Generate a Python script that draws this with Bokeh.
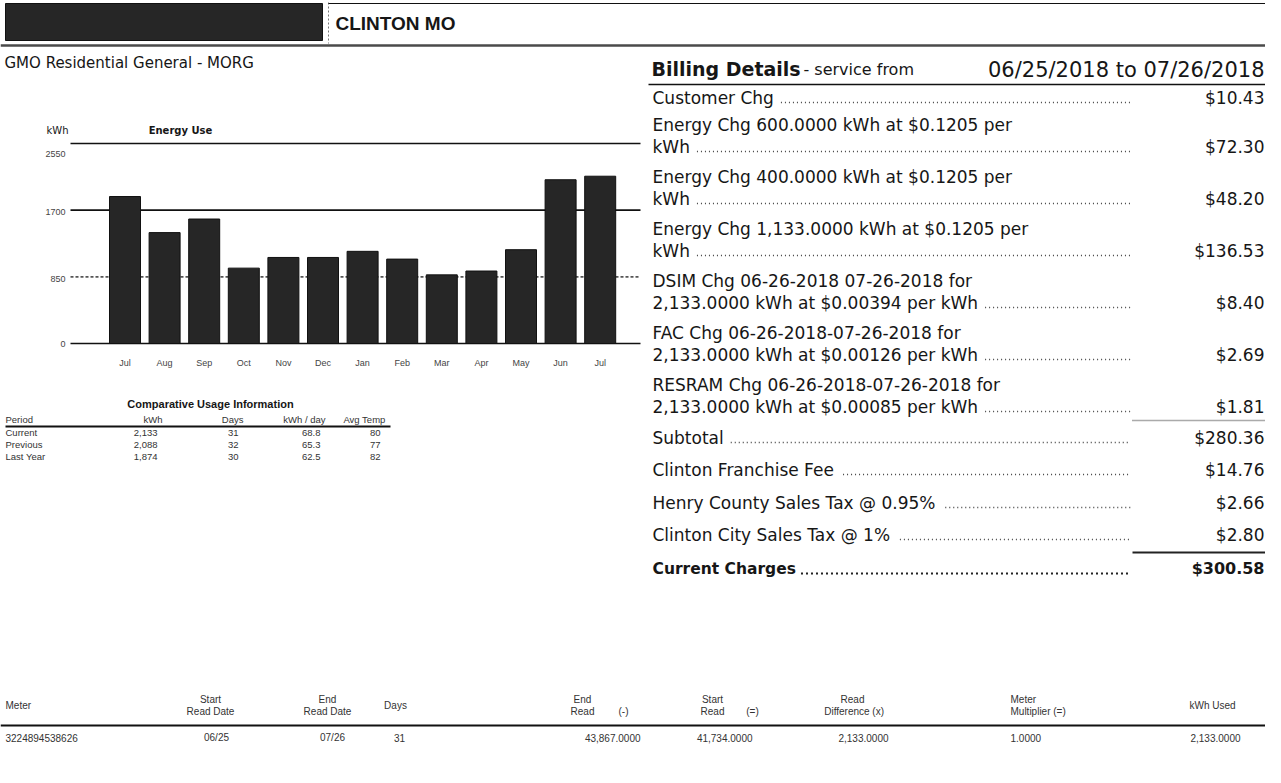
from bokeh.plotting import figure
from bokeh.models import Range1d
from bokeh.core.properties import value
from bokeh.embed import file_html
from bokeh.resources import INLINE

# ---------------------------------------------------------------- data
town = "CLINTON MO"
rate_name = "GMO Residential General - MORG"
chart_title = "Energy Use"
chart_unit = "kWh"
months = ["Jul", "Aug", "Sep", "Oct", "Nov", "Dec", "Jan", "Feb", "Mar", "Apr", "May", "Jun", "Jul"]
kwh_use = [1874, 1414, 1587, 961, 1097, 1097, 1175, 1076, 875, 924, 1196, 2088, 2133]
kwh_ticks = [0, 850, 1700, 2550]

cmp_title = "Comparative Usage Information"
cmp_header = ["Period", "kWh", "Days", "kWh / day", "Avg Temp"]
cmp_period = ["Current", "Previous", "Last Year"]
cmp_kwh = ["2,133", "2,088", "1,874"]
cmp_days = ["31", "32", "30"]
cmp_kwh_day = ["68.8", "65.3", "62.5"]
cmp_temp = ["80", "77", "82"]

bill_title = "Billing Details"
bill_service = "- service from"
bill_dates = "06/25/2018 to 07/26/2018"
bill_line1 = [
    "Customer Chg",
    "Energy Chg  600.0000 kWh at $0.1205 per",
    "Energy Chg  400.0000 kWh at $0.1205 per",
    "Energy Chg  1,133.0000 kWh at $0.1205 per",
    "DSIM Chg 06-26-2018 07-26-2018 for",
    "FAC Chg 06-26-2018-07-26-2018 for",
    "RESRAM Chg 06-26-2018-07-26-2018 for",
    "Subtotal",
    "Clinton Franchise Fee",
    "Henry County Sales Tax @ 0.95%",
    "Clinton City Sales Tax @ 1%",
]
bill_line2 = [
    None,
    "kWh",
    "kWh",
    "kWh",
    "2,133.0000 kWh at $0.00394 per kWh",
    "2,133.0000 kWh at $0.00126 per kWh",
    "2,133.0000 kWh at $0.00085 per kWh",
    None, None, None, None,
]
bill_amount = ["$10.43", "$72.30", "$48.20", "$136.53", "$8.40", "$2.69", "$1.81",
               "$280.36", "$14.76", "$2.66", "$2.80"]
total_label = "Current Charges"
total_amount = "$300.58"

meter_head1 = ["", "Start", "End", "", "End", "Start", "Read", "Meter", ""]
meter_head2 = ["Meter", "Read Date", "Read Date", "Days", "Read", "Read", "Difference  (x)",
               "Multiplier (=)", "kWh Used"]
meter_ops = ["(-)", "(=)"]
meter_row = ["3224894538626", "06/25", "07/26", "31", "43,867.0000", "41,734.0000",
             "2,133.0000", "1.0000", "2,133.0000"]

# ---------------------------------------------------------------- helpers
FONT = "DejaVu Sans"
SMALL = "Liberation Sans"
_W = {" ": 318, "!": 401, "$": 636, "%": 950, "(": 390, ")": 390, ",": 318, "-": 361,
      ".": 318, "/": 337, ":": 337, "=": 838, "@": 1000}
_W.update({d: 636 for d in "0123456789"})
_W.update(dict(zip("ABCDEFGHIJKLMNOPQRSTUVWXYZ",
                   [684, 686, 698, 770, 632, 575, 775, 752, 295, 295, 656, 557, 863, 748, 787,
                    603, 787, 695, 635, 611, 732, 684, 989, 685, 611, 685])))
_W.update(dict(zip("abcdefghijklmnopqrstuvwxyz",
                   [613, 635, 550, 635, 615, 352, 635, 634, 278, 278, 579, 278, 974, 634, 612,
                    635, 635, 411, 521, 392, 634, 592, 818, 592, 592, 525])))


def tw(s, size, bold=False):
    w = sum(_W.get(c, 600) for c in s) / 1000.0 * size
    return w * (1.1 if bold else 1.0)


W, H = 1265, 767
X0, Y0 = 8, 8
p = figure(width=W, height=H, x_range=Range1d(X0, X0 + W), y_range=Range1d(Y0 + H, Y0),
           output_backend="svg", toolbar_location=None, x_axis_location=None,
           y_axis_location=None, min_border=0)
p.grid.grid_line_color = None
p.outline_line_color = None
p.background_fill_color = "white"
p.border_fill_color = "white"


def txt(x, y, s, size, align="left", bold=False, color="#161616", font=FONT):
    p.text(x=[x], y=[y], text=[s], text_font=value(font), text_font_size=f"{size}px",
           text_font_style="bold" if bold else "normal", text_align=align,
           text_baseline="middle", text_color=color)


def hline(x0, x1, y, color="#111111", width=1.5, dash="solid"):
    p.segment(x0=[x0], x1=[x1], y0=[y], y1=[y], line_color=color, line_width=width, line_dash=dash)


# ---------------------------------------------------------------- header
p.quad(left=[13], right=[330], top=[11], bottom=[48], fill_color="#262626", line_color="#111111")
p.segment(x0=[336], x1=[336], y0=[10], y1=[51], line_color="#777777", line_width=1, line_dash="2 2")
hline(336, 1273, 11, width=1.2)
txt(343, 31, town, 19, bold=True, font=SMALL)
hline(8, 1273, 53, color="#4a4a4a", width=2.5)
txt(12, 70, rate_name, 15)

# ---------------------------------------------------------------- energy chart
ZERO_Y, TOP_Y = 351.0, 151.0
kpp = (kwh_ticks[-1] - kwh_ticks[0]) / (ZERO_Y - TOP_Y)
p.extra_y_ranges = {"kwh": Range1d(start=-(Y0 + H - ZERO_Y) * kpp, end=(ZERO_Y - Y0) * kpp)}
BAR0, STEP = 132.5, 39.6
p.extra_x_ranges = {"mon": Range1d(start=(X0 - BAR0) / STEP, end=(X0 + W - BAR0) / STEP)}

txt(54, 138, chart_unit, 10)
txt(188, 138, chart_title, 10, align="center", bold=True)

for t in kwh_ticks:
    dash = "3 2" if t == 850 else "solid"
    col = "#555555" if t == 850 else "#111111"
    p.segment(x0=[78], x1=[648], y0=[t], y1=[t], y_range_name="kwh",
              line_color=col, line_width=1.6, line_dash=dash)

idx = list(range(len(months)))
p.vbar(x=idx, top=kwh_use, bottom=0, width=31 / STEP, x_range_name="mon", y_range_name="kwh",
       fill_color="#262626", line_color="#111111", line_width=1)

p.text(x=[73] * len(kwh_ticks), y=kwh_ticks, text=[str(t) for t in kwh_ticks],
       y_range_name="kwh", y_offset=[0, 2, 2, 10], text_align="right", text_baseline="middle",
       text_font=value(SMALL), text_font_size="9px", text_color="#444444")
p.text(x=idx, y=[0] * len(idx), text=months, x_range_name="mon", y_range_name="kwh",
       y_offset=19, text_align="center", text_baseline="middle",
       text_font=value(SMALL), text_font_size="9px", text_color="#444444")

# ---------------------------------------------------------------- comparative table
txt(218, 411, cmp_title, 11, align="center", bold=True, font=SMALL)
cx = [13, 170, 251, 333, 393]
cal = ["left", "right", "right", "right", "right"]
for x, a, s in zip(cx, cal, cmp_header):
    txt(x, 427, s, 9.5, align=a, color="#333333", font=SMALL)
hline(13, 398, 434, width=2)
cols = [cmp_period, cmp_kwh, cmp_days, cmp_kwh_day, cmp_temp]
for r in range(len(cmp_period)):
    y = 440 + 12 * r
    for x, a, col in zip(cx, cal, cols):
        txt(x - (0 if a == "left" else 5), y, col[r], 9.5, align=a, color="#333333", font=SMALL)

# ---------------------------------------------------------------- billing details
BX, AMT_R, DOT_END, BFS = 660, 1272, 1138, 17
txt(659, 76, bill_title, 19, bold=True)
txt(811, 77, bill_service, 16)
txt(1272, 77, bill_dates, 21, align="right")
hline(656, 1273, 92, width=1.6)

ys = [105, (132, 154), (184, 206), (236, 258), (288, 310), (340, 362), (392, 414), 445, 477, 510, 542]
for i, (l1, l2, amt) in enumerate(zip(bill_line1, bill_line2, bill_amount)):
    if l2 is None:
        y1 = ys[i]
        last, ylast = l1, y1
    else:
        y1, y2 = ys[i]
        txt(BX, y2, l2, BFS)
        last, ylast = l2, y2
    txt(BX, y1, l1, BFS)
    txt(AMT_R, ylast, amt, BFS, align="right")
    start = BX + tw(last, BFS) + 7
    hline(start, DOT_END, ylast + 5, color="#444444", width=1.3, dash="1 3")

hline(1140, 1273, 428, color="#555555", width=1.5, dash="1 1")
hline(1140, 1273, 560, color="#222222", width=2.2)
txt(BX, 576, total_label, 15.5, bold=True)
txt(AMT_R, 576, total_amount, 16, align="right", bold=True)
hline(BX + tw(total_label, 15.5, True) + 8, DOT_END, 581, color="#222222", width=2, dash="2 3")

# ---------------------------------------------------------------- meter table
MFS = 10
mh_x = [13, 218, 335, 403, 590, 720, 863, 1018, 1220]
mh_a = ["left", "center", "center", "center", "center", "center", "center", "left", "center"]
for x, a, h1, h2 in zip(mh_x, mh_a, meter_head1, meter_head2):
    if h1:
        txt(x if h1 != "Read" else 860, 707, h1, MFS, align=a, color="#333333", font=SMALL)
        txt(x, 719, h2, MFS, align=a, color="#333333", font=SMALL)
    else:
        txt(x, 713, h2, MFS, align=a, color="#333333", font=SMALL)
txt(631, 719, meter_ops[0], MFS, align="center", color="#333333", font=SMALL)
txt(760, 719, meter_ops[1], MFS, align="center", color="#333333", font=SMALL)
hline(8, 1273, 733, width=2)
md_x = [13, 224, 340, 407, 648, 760, 896, 1018, 1248]
md_a = ["left", "center", "center", "center", "right", "right", "right", "left", "right"]
for x, a, s in zip(md_x, md_a, meter_row):
    txt(x, 745, s, MFS, align=a, color="#333333", font=SMALL)

open("out.html", "w").write(file_html(p, INLINE))
